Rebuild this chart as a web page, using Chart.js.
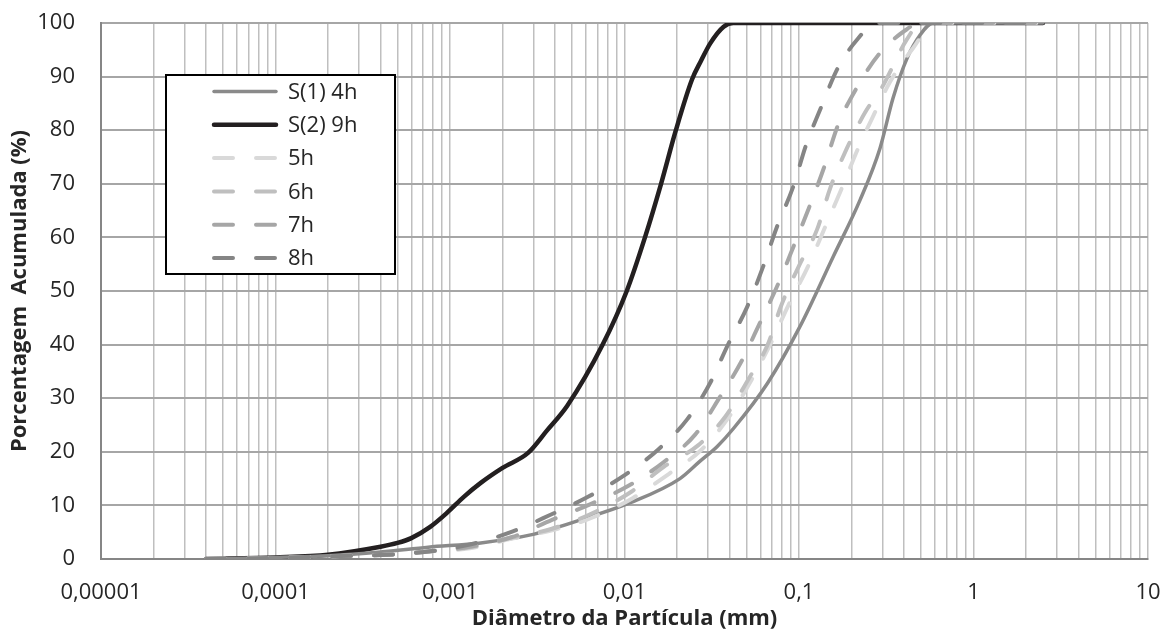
<!DOCTYPE html>
<html>
<head>
<meta charset="utf-8">
<script src="https://cdn.jsdelivr.net/npm/chart.js@4"></script>
<style>
html,body{margin:0;padding:0;background:#fff;}
#wrap{width:1171px;height:633px;position:relative;}
</style>
</head>
<body>
<div id="wrap"><canvas id="c" width="1171" height="633"></canvas></div>
<script>
// ---------- DATA ----------
const seriesNames = ['S(1) 4h', 'S(2) 9h', '5h', '6h', '7h', '8h'];

const diam4h = [0.00004, 0.0001, 0.0002, 0.0004, 0.00075, 0.0015, 0.0029, 0.0056, 0.0108, 0.0208, 0.027, 0.034, 0.042, 0.066, 0.101, 0.157, 0.224, 0.291, 0.346, 0.416, 0.493, 0.586, 2.5];
const pct4h  = [0, 0.3, 0.6, 1.3, 2.2, 3.0, 4.5, 7.3, 10.5, 15.0, 18.2, 21.0, 24.3, 32.8, 43.3, 56.4, 67, 76.6, 86, 93.4, 97.7, 100, 100];

const diam9h = [0.00004, 0.0001, 0.0002, 0.0004, 0.0005, 0.0006, 0.00077, 0.00096, 0.0012, 0.0015, 0.002, 0.0028, 0.0036, 0.0047, 0.0075, 0.0103, 0.0131, 0.0162, 0.0197, 0.0244, 0.0275, 0.031, 0.037, 0.042, 2.5];
const pct9h  = [0, 0.3, 0.8, 2.3, 3.0, 3.9, 6, 8.6, 11.6, 14.2, 17, 19.8, 24, 28.6, 40, 50, 60, 70, 80, 89.5, 93, 96.2, 99.3, 100, 100];

const diam5h = [0.00004, 0.0001, 0.0002, 0.00044, 0.00075, 0.0013, 0.00227, 0.0039, 0.0064, 0.0112, 0.018, 0.0274, 0.0397, 0.0538, 0.0691, 0.0865, 0.1127, 0.141, 0.176, 0.218, 0.276, 0.332, 0.45, 0.6, 2.5];
const pct5h  = [0, 0.2, 0.5, 0.8, 1.4, 2.0, 3.8, 5.4, 7.6, 11.4, 15.9, 20.3, 26.5, 33.6, 40.3, 47.2, 54.6, 61.9, 69.2, 76.6, 83.7, 89, 95.3, 100, 100];

const diam6h = [0.00004, 0.0001, 0.0002, 0.00044, 0.00075, 0.0013, 0.00227, 0.0038, 0.0064, 0.011, 0.0168, 0.0264, 0.0377, 0.051, 0.0664, 0.0789, 0.1, 0.127, 0.151, 0.188, 0.239, 0.299, 0.416, 0.5, 2.5];
const pct6h  = [0, 0.2, 0.5, 0.8, 1.4, 2.2, 4.0, 5.6, 8.4, 12.6, 17.2, 21.2, 26.5, 33.4, 40.1, 47.2, 54.7, 61.5, 69.2, 76.6, 83.3, 88, 97, 100, 100];

const diam7h = [0.00004, 0.0001, 0.0002, 0.00044, 0.00075, 0.0013, 0.00227, 0.00384, 0.00634, 0.0106, 0.0168, 0.0254, 0.0352, 0.0465, 0.0598, 0.0759, 0.0949, 0.114, 0.139, 0.1675, 0.215, 0.291, 0.405, 0.49, 2.5];
const pct7h  = [0, 0.2, 0.5, 0.8, 1.4, 2.3, 4.1, 7.3, 10.2, 13.7, 18.1, 23.2, 30.2, 36.7, 44.1, 51.3, 59, 65.5, 73, 81, 88, 94.4, 98.6, 100, 100];

const diam8h = [0.00004, 0.0001, 0.0002, 0.00044, 0.00075, 0.0013, 0.00227, 0.00374, 0.00618, 0.01007, 0.01556, 0.0228, 0.0309, 0.0392, 0.0504, 0.0622, 0.0748, 0.0925, 0.1097, 0.1355, 0.1675, 0.218, 0.273, 2.5];
const pct8h  = [0, 0.2, 0.5, 0.8, 1.4, 2.7, 5.1, 8.2, 11.6, 15.7, 20.4, 26, 32.8, 40, 47, 54.5, 62, 69.4, 77.2, 84.7, 91.7, 97.1, 100, 100];

const xDecades = [0.00001, 0.0001, 0.001, 0.01, 0.1, 1, 10];
const xDecadeLabels = ['0,00001', '0,0001', '0,001', '0,01', '0,1', '1', '10'];
const xMultipliers = [1, 2, 3, 4, 5, 6, 7, 8, 9];

// ---------- BUILD ----------
const pts = (xs, ys) => xs.map((x, i) => ({x: x, y: ys[i]}));
const xTickValues = [];
xDecades.forEach((d, i) => {
  if (i === xDecades.length - 1) { xTickValues.push(d); return; }
  xMultipliers.forEach(m => xTickValues.push(+(m * d).toPrecision(3)));
});
const labelFor = v => {
  const k = xDecades.findIndex(d => Math.abs(d - v) / d < 1e-6);
  return k >= 0 ? xDecadeLabels[k] : '';
};

const solid = (name, xs, ys, color, w, order) => ({
  label: name, data: pts(xs, ys), borderColor: color, backgroundColor: color,
  borderWidth: w, pointRadius: 0, fill: false, cubicInterpolationMode: 'monotone',
  borderCapStyle: 'round', borderJoinStyle: 'round', order: order
});
const dashed = (name, xs, ys, color, order) => Object.assign(solid(name, xs, ys, color, 4, order), {borderDash: [19, 23]});

const datasets = [
  solid(seriesNames[0], diam4h, pct4h, '#8a8a8a', 3.5, 4),
  solid(seriesNames[1], diam9h, pct9h, '#231f20', 4.5, 5),
  dashed(seriesNames[2], diam5h, pct5h, '#d9d9d9', 3),
  dashed(seriesNames[3], diam6h, pct6h, '#bfbfbf', 2),
  dashed(seriesNames[4], diam7h, pct7h, '#a6a6a6', 1),
  dashed(seriesNames[5], diam8h, pct8h, '#858585', 0)
];

const FONT = "'Open Sans', 'Liberation Sans', sans-serif";

const boxLegend = {
  id: 'boxLegend',
  afterDraw(chart) {
    const ctx = chart.ctx;
    ctx.save();
    const bx = 166, by = 75, bw = 229, bh = 199;
    ctx.fillStyle = '#fff';
    ctx.fillRect(bx, by, bw, bh);
    ctx.strokeStyle = '#000';
    ctx.lineWidth = 2;
    ctx.strokeRect(bx, by, bw, bh);
    chart.data.datasets.forEach((ds, i) => {
      const y = 91.5 + i * 33.3;
      ctx.beginPath();
      ctx.setLineDash(ds.borderDash || []);
      ctx.lineCap = 'round';
      ctx.lineWidth = ds.borderWidth;
      ctx.strokeStyle = ds.borderColor;
      ctx.moveTo(214, y);
      ctx.lineTo(276, y);
      ctx.stroke();
      ctx.setLineDash([]);
      ctx.fillStyle = '#262626';
      ctx.font = "22px " + FONT;
      ctx.textBaseline = 'middle';
      ctx.textAlign = 'left';
      ctx.fillText(ds.label, 288, y + 1);
    });
    ctx.restore();
  }
};

new Chart(document.getElementById('c'), {
  type: 'line',
  data: {datasets: datasets},
  plugins: [boxLegend],
  options: {
    responsive: false,
    animation: false,
    layout: {padding: {top: 23, right: 23, bottom: 0, left: 0}},
    plugins: {legend: {display: false}, tooltip: {enabled: false}},
    scales: {
      x: {
        type: 'logarithmic',
        min: 0.00001, max: 10,
        afterBuildTicks: s => { s.ticks = xTickValues.map(v => ({value: v})); },
        afterFit: s => { s.height = 74; s.paddingLeft = 0; s.paddingRight = 0; },
        ticks: {
          autoSkip: false, maxRotation: 0, padding: 21,
          color: '#262626', font: {family: FONT, size: 22},
          callback: (v) => labelFor(v)
        },
        grid: {color: '#bfbfbf', lineWidth: 1.5, drawTicks: false},
        border: {color: '#868686', width: 2},
        title: {
          display: true, text: 'Diâmetro da Partícula (mm)', color: '#262626',
          font: {family: FONT, size: 22, weight: 'bold'}, padding: {top: 0, bottom: 1}
        }
      },
      y: {
        min: 0, max: 100,
        afterFit: s => { s.width = 101; s.paddingTop = 0; s.paddingBottom = 0; },
        ticks: {
          stepSize: 10, padding: 26, color: '#262626',
          font: {family: FONT, size: 22}
        },
        grid: {color: '#a6a6a6', lineWidth: 2, drawTicks: false},
        border: {color: '#868686', width: 2},
        title: {
          display: true, text: 'Porcentagem  Acumulada (%)', color: '#262626',
          font: {family: FONT, size: 22, weight: 'bold'}, padding: {top: 7, bottom: 0}
        }
      }
    }
  }
});
</script>
</body>
</html>
